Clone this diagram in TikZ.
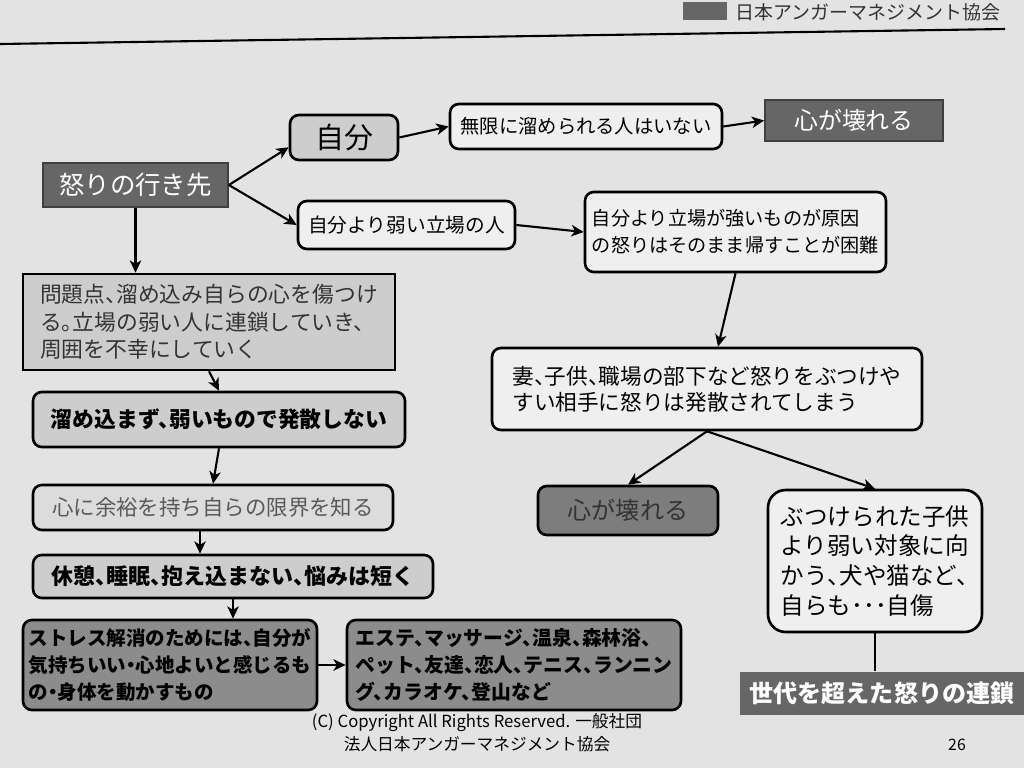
\documentclass[tikz,border=0pt]{standalone}
\usepackage{fontspec}
\setmainfont[RawFeature=+halt]{Noto Sans CJK JP}
\usetikzlibrary{positioning, shapes.geometric}
\usetikzlibrary{arrows, arrows.meta}
\definecolor{paper}{HTML}{E3E3E3}
\definecolor{boxwhite}{HTML}{EFEFEF}
\definecolor{boxlight}{HTML}{CDCDCD}
\definecolor{boxmid}{HTML}{8C8C8C}
\definecolor{boxdark}{HTML}{666666}
\newcommand{\fsz}[2]{\fontsize{#1}{#2}\selectfont}
\tikzset{ bx/.style={draw, line width=1.5pt, rounded corners=5pt,
            inner sep=0pt, align=left},
          wbox/.style={bx, fill=boxwhite},
          gbox/.style={bx, fill=boxlight},
          mbox/.style={bx, fill=boxmid, font=\fsz{11.1}{15.4}\bfseries},
          dbox/.style={draw=black!75, line width=1pt, fill=boxdark,
            text=white, inner sep=0pt},
          arr/.style={->, >={Stealth[length=7pt, width=6.5pt, inset=2pt]},
            line width=1.2pt}}

\begin{document}
\begin{tikzpicture}[x=0.02cm, y=-0.02cm]
\fill[paper] (0,0) rectangle (1024,768);
\useasboundingbox (0,0) rectangle (1024,768);

% page header
\fill[boxdark] (683,2) rectangle (727,20);
\node[font=\fsz{10.8}{13}, text=black!80] (hdr) at (868,12) {日本アンガーマネジメント協会};
\draw[line width=1.2pt] (0,44) -- (1005,29);

% upper branch
\node[dbox, minimum width=3.7cm, minimum height=0.88cm,
  font=\fsz{14.5}{17}] (root) at (135.5,185) {怒りの行き先};
\node[gbox, minimum width=2.16cm, minimum height=0.9cm,
  font=\fsz{16.5}{19}] (self) at (344,137.5) {自分};
\node[wbox, minimum width=5.44cm, minimum height=0.9cm,
  font=\fsz{11}{14}] (limit) at (586,126.5) {無限に溜められる人はいない};
\node[dbox, minimum width=3.56cm, minimum height=0.82cm,
  font=\fsz{13.6}{16}] (broken1) at (854,120.5) {心が壊れる};
\node[wbox, minimum width=4.34cm, minimum height=0.96cm,
  font=\fsz{11.2}{14}] (weaker) at (406.5,225) {自分より弱い立場の人};
\node[wbox, minimum width=6.02cm, minimum height=1.6cm,
  font=\fsz{10.9}{15.4}] (cause) at (735.5,232)
  {自分より立場が強いものが原因\\の怒りはそのまま帰すことが困難};

% left column
\node[gbox, rounded corners=0pt, minimum width=7.44cm, minimum height=1.92cm,
  font=\fsz{12.4}{15.7}, text=black!80] (problem) at (209,322)
  {問題点、溜め込み自らの心を傷つけ\\る。立場の弱い人に連鎖していき、\\周囲を不幸にしていく};
\node[gbox, minimum width=7.44cm, minimum height=1.1cm,
  font=\fsz{12.4}{15}\bfseries] (nohold) at (219,419.5) {溜め込まず、弱いもので発散しない};
\node[gbox, fill=boxlight!70, minimum width=7.2cm, minimum height=0.9cm,
  font=\fsz{12.2}{15}, text=black!65] (margin) at (213,507.5) {心に余裕を持ち自らの限界を知る};
\node[gbox, minimum width=8cm, minimum height=0.86cm,
  font=\fsz{12.5}{14}\bfseries] (rest) at (233,576.5) {休憩、睡眠、抱え込まない、悩みは短く};
\node[mbox, minimum width=5.88cm, minimum height=1.8cm] (stress) at (170,665)
  {ストレス解消のためには、自分が\\気持ちいい・心地よいと感じるも\\の・身体を動かすもの};
\node[mbox, minimum width=6.68cm, minimum height=1.8cm, font=\fsz{11.3}{15.4}\bfseries]
  (activity) at (514,665)
  {エステ、マッサージ、温泉、森林浴、\\ペット、友達、恋人、テニス、ランニン\\グ、カラオケ、登山など};

% right column
\node[wbox, minimum width=8.6cm, minimum height=1.64cm,
  font=\fsz{12.3}{14.8}] (wife) at (707,389)
  {妻、子供、職場の部下など怒りをぶつけや\\すい相手に怒りは発散されてしまう};
\node[bx, fill=boxdark!85, minimum width=3.6cm, minimum height=0.98cm,
  font=\fsz{13.7}{16}, text=black!80] (broken2) at (628,510.5) {心が壊れる};
\node[wbox, rounded corners=10pt, minimum width=4.28cm, minimum height=2.84cm,
  font=\fsz{13.4}{17}] (child) at (875,561)
  {ぶつけられた子供\\より弱い対象に向\\かう、犬や猫など、\\自らも･･･自傷};
\node[dbox, draw=none, minimum width=5.68cm, minimum height=0.86cm,
  font=\fsz{13.7}{16}\bfseries] (chain) at (882,693.5) {世代を超えた怒りの連鎖};

% connectors
\foreach \x/\y in {root.east/self.190, root.east/weaker.west,
    self.east/limit.west, limit.east/broken1.west, weaker.east/cause.west,
    problem.south/nohold.north, nohold.south/margin.north,
    wife.south/broken2.north, wife.south/child.north,
    stress.east/activity.west}
  \draw[arr] (\x) -- (\y);
\draw[arr] (root.south) -- (root.south |- problem.north);
\draw[arr] (cause.south) -- ([xshift=0.22cm]wife.north);
\draw[arr] ([xshift=-0.26cm]margin.south) -- ([xshift=-0.26cm]margin.south |- rest.north);
\draw[arr] (rest.south) -- (rest.south |- stress.north);
\draw[line width=1.5pt] (child.south) -- (child.south |- chain.north);

% footer
\node[font=\fsz{9.5}{13}, align=center] (copy) at (477,733)
  {(C) Copyright All Rights Reserved. 一般社団\\法人日本アンガーマネジメント協会};
\node[font=\fsz{9}{11}] (page) at (957,745) {26};

\end{tikzpicture}
\end{document}
